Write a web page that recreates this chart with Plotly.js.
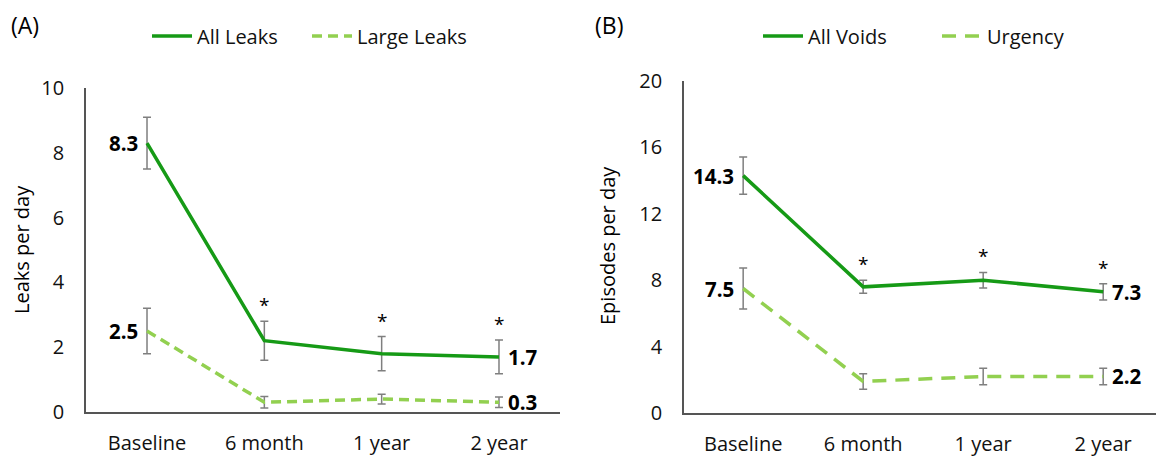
<!DOCTYPE html>
<html>
<head>
<meta charset="utf-8">
<script src="https://cdn.plot.ly/plotly-3.0.1.min.js"></script>
<style>html,body{margin:0;padding:0;background:#fff;}#chart{width:1156px;height:460px;}</style>
</head>
<body>
<div id="chart"></div>
<script>
// ---- data ----
const categories = ['Baseline', '6 month', '1 year', '2 year'];

const allLeaks = [8.3, 2.2, 1.8, 1.7];
const allLeaksErr = [0.8, 0.6, 0.53, 0.52];
const largeLeaks = [2.5, 0.3, 0.4, 0.3];
const largeLeaksErr = [0.7, 0.18, 0.15, 0.16];

const allVoids = [14.3, 7.6, 8.0, 7.3];
const allVoidsErr = [1.12, 0.39, 0.47, 0.49];
const urgency = [7.5, 1.9, 2.2, 2.2];
const urgencyErr = [1.23, 0.47, 0.5, 0.5];

const sigIdx = [1, 2, 3]; // points marked with *

// ---- style ----
const DARK = '#169A16';
const LIGHT = '#92D050';
const FONT = '"Open Sans", "Noto Sans", sans-serif';
const ERR = {type: 'data', visible: true, color: '#7F7F7F', thickness: 1.5, width: 4};

function trace(name, y, err, color, dash, xa, ya, legend) {
  return {
    type: 'scatter', mode: 'lines', name: name,
    x: categories, y: y,
    error_y: Object.assign({array: err}, ERR),
    line: {color: color, width: 3.5, dash: dash},
    xaxis: xa, yaxis: ya, legend: legend,
    hoverinfo: 'skip'
  };
}

const data = [
  trace('All Leaks', allLeaks, allLeaksErr, DARK, 'solid', 'x', 'y', 'legend'),
  trace('Large Leaks', largeLeaks, largeLeaksErr, LIGHT, '10px,6px', 'x', 'y', 'legend'),
  trace('All Voids', allVoids, allVoidsErr, DARK, 'solid', 'x2', 'y2', 'legend2'),
  trace('Urgency', urgency, urgencyErr, LIGHT, '14px,9px', 'x2', 'y2', 'legend2')
];

const annotations = [];
function endLabels(y, xref, yref) {
  const n = y.length;
  annotations.push({x: categories[0], y: y[0], xref: xref, yref: yref, text: '<b>' + y[0].toFixed(1) + '</b>',
    showarrow: false, xanchor: 'right', yanchor: 'middle', xshift: -7, font: {family: FONT, size: 20.5, color: '#000'}});
  annotations.push({x: categories[n - 1], y: y[n - 1], xref: xref, yref: yref, text: '<b>' + y[n - 1].toFixed(1) + '</b>',
    showarrow: false, xanchor: 'left', yanchor: 'middle', xshift: 7, font: {family: FONT, size: 20.5, color: '#000'}});
}
function stars(y, err, xref, yref) {
  sigIdx.forEach(i => annotations.push({x: categories[i], y: y[i] + err[i], xref: xref, yref: yref, text: '*',
    showarrow: false, xanchor: 'center', yanchor: 'bottom', yshift: 1, font: {family: FONT, size: 19, color: '#000'}}));
}
endLabels(allLeaks, 'x', 'y');
endLabels(largeLeaks, 'x', 'y');
endLabels(allVoids, 'x2', 'y2');
endLabels(urgency, 'x2', 'y2');
stars(allLeaks, allLeaksErr, 'x', 'y');
stars(allVoids, allVoidsErr, 'x2', 'y2');

// panel letters & axis titles
annotations.push({xref: 'paper', yref: 'paper', x: 9 / 1156, y: 1 - 25 / 460, text: '(A)', showarrow: false,
  xanchor: 'left', yanchor: 'middle', font: {family: FONT, size: 23, color: '#000'}});
annotations.push({xref: 'paper', yref: 'paper', x: 593 / 1156, y: 1 - 25 / 460, text: '(B)', showarrow: false,
  xanchor: 'left', yanchor: 'middle', font: {family: FONT, size: 23, color: '#000'}});
annotations.push({xref: 'paper', yref: 'paper', x: 21 / 1156, y: 1 - 250 / 460, text: 'Leaks per day', showarrow: false,
  textangle: -90, xanchor: 'center', yanchor: 'middle', font: {family: FONT, size: 20, color: '#000'}});
annotations.push({xref: 'paper', yref: 'paper', x: 607 / 1156, y: 1 - 246 / 460, text: 'Episodes per day', showarrow: false,
  textangle: -90, xanchor: 'center', yanchor: 'middle', font: {family: FONT, size: 20, color: '#000'}});

const axisCommon = {
  showgrid: false, zeroline: false, showline: true, linecolor: '#555', linewidth: 1.8,
  ticks: '', tickfont: {family: FONT, size: 20, color: '#111'}, fixedrange: true
};

const legendFont = {family: FONT, size: 20, color: '#111'};

const layout = {
  width: 1156, height: 460,
  margin: {l: 0, r: 0, t: 0, b: 0},
  paper_bgcolor: '#fff', plot_bgcolor: '#fff',
  font: {family: FONT, color: '#000'},
  showlegend: true,
  xaxis: Object.assign({}, axisCommon, {domain: [86 / 1156, 560 / 1156], type: 'category', range: [-0.52, 3.52],
    anchor: 'y', ticklabelstandoff: 12}),
  yaxis: Object.assign({}, axisCommon, {domain: [48 / 460, 372 / 460], range: [0, 10], tickvals: [0, 2, 4, 6, 8, 10],
    anchor: 'x', ticklabelstandoff: 16}),
  xaxis2: Object.assign({}, axisCommon, {domain: [684 / 1156, 1], type: 'category', range: [-0.493, 3.44],
    anchor: 'y2', ticklabelstandoff: 12}),
  yaxis2: Object.assign({}, axisCommon, {domain: [47 / 460, 379 / 460], range: [0, 20], tickvals: [0, 4, 8, 12, 16, 20],
    anchor: 'x2', ticklabelstandoff: 16}),
  legend: {orientation: 'h', x: 147 / 1156, xanchor: 'left', y: 1 - 36 / 460, yanchor: 'middle',
    font: legendFont, bgcolor: 'rgba(0,0,0,0)', itemwidth: 40, entrywidth: 105, tracegroupgap: 0},
  legend2: {orientation: 'h', x: 758 / 1156, xanchor: 'left', y: 1 - 36 / 460, yanchor: 'middle',
    font: legendFont, bgcolor: 'rgba(0,0,0,0)', itemwidth: 40, entrywidth: 124, tracegroupgap: 0},
  annotations: annotations
};

Plotly.newPlot('chart', data, layout, {displayModeBar: false, staticPlot: true});
</script>
</body>
</html>
